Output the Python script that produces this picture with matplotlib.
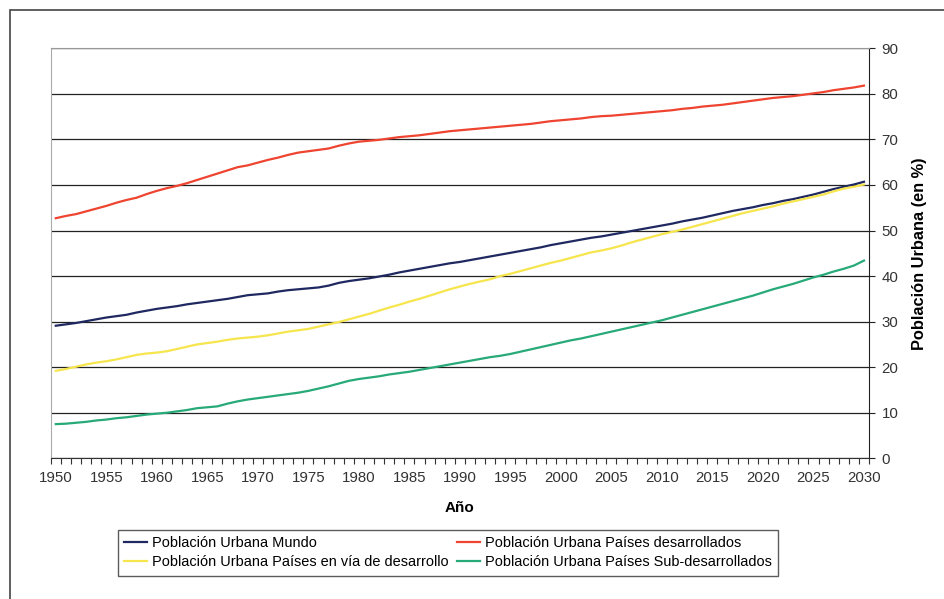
import numpy as np
from matplotlib import pyplot as plt
from matplotlib.patches import Rectangle

plt.rcParams['font.family'] = ['Liberation Sans', 'DejaVu Sans']

years = list(range(1950, 2031))

# porcentaje de poblacion urbana, un valor por año
mundo = [29.1, 29.4, 29.7, 30.1, 30.5, 30.9, 31.2, 31.5, 32.0, 32.4,
         32.8, 33.1, 33.4, 33.8, 34.1, 34.4, 34.7, 35.0, 35.4, 35.8,
         36.0, 36.2, 36.6, 36.9, 37.1, 37.3, 37.5, 37.9, 38.5, 38.9,
         39.2, 39.5, 39.9, 40.3, 40.8, 41.2, 41.6, 42.0, 42.4, 42.8,
         43.1, 43.5, 43.9, 44.3, 44.7, 45.1, 45.5, 45.9, 46.3, 46.8,
         47.2, 47.6, 48.0, 48.4, 48.7, 49.1, 49.5, 49.9, 50.3, 50.7,
         51.1, 51.5, 52.0, 52.4, 52.8, 53.3, 53.8, 54.3, 54.7, 55.1,
         55.6, 56.0, 56.5, 56.9, 57.4, 57.9, 58.5, 59.1, 59.6, 60.1,
         60.7]
desarrollados = [52.7, 53.2, 53.6, 54.2, 54.8, 55.4, 56.1, 56.7, 57.2, 58.0,
                 58.7, 59.3, 59.8, 60.4, 61.1, 61.8, 62.5, 63.2, 63.9, 64.3,
                 64.9, 65.5, 66.0, 66.6, 67.1, 67.4, 67.7, 68.0, 68.6, 69.1,
                 69.5, 69.7, 69.9, 70.2, 70.5, 70.7, 70.9, 71.2, 71.5, 71.8,
                 72.0, 72.2, 72.4, 72.6, 72.8, 73.0, 73.2, 73.4, 73.7, 74.0,
                 74.2, 74.4, 74.6, 74.9, 75.1, 75.2, 75.4, 75.6, 75.8, 76.0,
                 76.2, 76.4, 76.7, 76.9, 77.2, 77.4, 77.6, 77.9, 78.2, 78.5,
                 78.8, 79.1, 79.3, 79.5, 79.8, 80.1, 80.4, 80.8, 81.1, 81.4,
                 81.8]
en_desarrollo = [19.2, 19.6, 20.1, 20.6, 21.0, 21.3, 21.7, 22.2, 22.7, 23.0,
                 23.2, 23.5, 24.0, 24.5, 25.0, 25.3, 25.6, 26.0, 26.3, 26.5,
                 26.7, 27.0, 27.4, 27.8, 28.1, 28.4, 28.9, 29.4, 29.9, 30.5,
                 31.1, 31.7, 32.4, 33.1, 33.7, 34.4, 35.0, 35.7, 36.4, 37.1,
                 37.7, 38.3, 38.8, 39.3, 40.0, 40.5, 41.1, 41.7, 42.3, 42.9,
                 43.4, 44.0, 44.6, 45.2, 45.6, 46.1, 46.7, 47.4, 48.0, 48.6,
                 49.2, 49.7, 50.2, 50.8, 51.4, 52.0, 52.6, 53.2, 53.8, 54.3,
                 54.8, 55.3, 55.9, 56.4, 56.9, 57.4, 57.9, 58.6, 59.2, 59.6,
                 60.1]
sub_desarrollados = [7.5, 7.6, 7.8, 8.0, 8.3, 8.5, 8.8, 9.0, 9.3, 9.6,
                     9.8, 10.0, 10.3, 10.6, 11.0, 11.2, 11.4, 12.0, 12.5, 12.9,
                     13.2, 13.5, 13.8, 14.1, 14.4, 14.8, 15.3, 15.8, 16.4, 17.0,
                     17.4, 17.7, 18.0, 18.4, 18.7, 19.0, 19.4, 19.8, 20.2, 20.6,
                     21.0, 21.4, 21.8, 22.2, 22.5, 22.9, 23.4, 23.9, 24.4, 24.9,
                     25.4, 25.9, 26.3, 26.8, 27.3, 27.8, 28.3, 28.8, 29.3, 29.8,
                     30.3, 30.9, 31.5, 32.1, 32.7, 33.3, 33.9, 34.5, 35.1, 35.7,
                     36.4, 37.1, 37.7, 38.3, 39.0, 39.7, 40.3, 41.0, 41.6, 42.3,
                     43.4]

fig = plt.figure(figsize=(9.45, 5.99), dpi=100)
ax = fig.add_axes([0.0537, 0.2349, 0.8659, 0.6845])

# marco exterior
fig.patches.append(Rectangle((10/945, -0.1), 1.2, 1 - 10/599 + 0.1,
                             transform=fig.transFigure, fill=False,
                             edgecolor='#444444', linewidth=1.2))

ax.plot(years, mundo, color='#1f2860', lw=1.6, label='Población Urbana Mundo')
ax.plot(years, en_desarrollo, color='#f6e54c', lw=1.6,
        label='Población Urbana Países en vía de desarrollo')
ax.plot(years, desarrollados, color='#ee4430', lw=1.6,
        label='Población Urbana Países desarrollados')
ax.plot(years, sub_desarrollados, color='#27aa78', lw=1.6,
        label='Población Urbana Países Sub-desarrollados')

ax.set_xlim(1949.5, 2030.5)
ax.set_ylim(0, 90)
ax.set_yticks(range(0, 91, 10))
ax.grid(axis='y', color='#222222', lw=0.9)
ax.set_axisbelow(True)

ax.set_xticks(range(1950, 2031, 5))
ax.set_xticks(np.arange(1949.5, 2031, 1), minor=True)
ax.tick_params(axis='x', which='major', length=0, pad=9,
               labelsize=10.8, labelcolor='#333333')
ax.tick_params(axis='x', which='minor', length=4, width=0.8,
               color='#333333', direction='out')

ax.yaxis.tick_right()
ax.yaxis.set_label_position('right')
ax.tick_params(axis='y', length=4, width=0.8, color='#222222',
               labelsize=10.8, labelcolor='#333333', pad=5)

ax.spines['left'].set_color('#aaaaaa')
ax.spines['top'].set_color('#999999')
ax.spines['right'].set_color('#222222')
ax.spines['bottom'].set_color('#333333')

ax.set_xlabel('Año', fontsize=11, fontweight='bold', labelpad=12)
ax.set_ylabel('Población Urbana (en %)', fontsize=11.8, fontweight='bold',
              labelpad=10)

leg = fig.legend(loc='center', bbox_to_anchor=(0.474, 0.077), ncol=2,
                 fontsize=10.45, frameon=True, fancybox=False,
                 handlelength=1.6, handletextpad=0.3, columnspacing=0.6,
                 borderpad=0.45, labelspacing=0.35)
leg.get_frame().set_edgecolor('#333333')
leg.get_frame().set_linewidth(1.0)

fig.savefig('out.png', dpi=100)
